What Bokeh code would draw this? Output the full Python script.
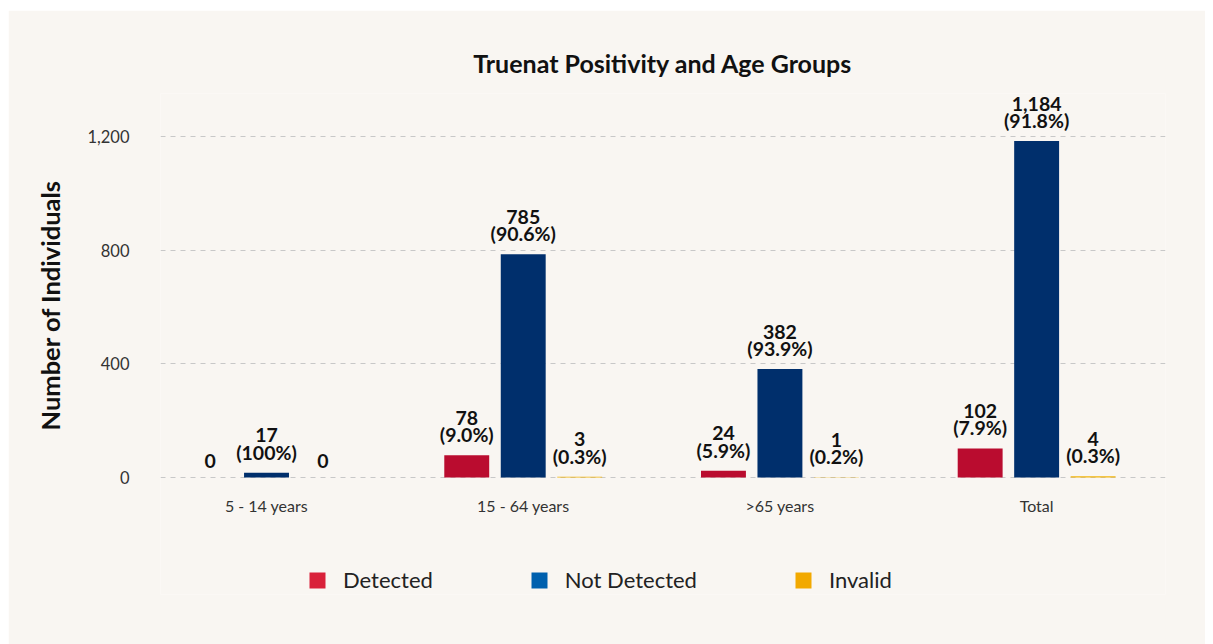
from bokeh.plotting import figure
from bokeh.models import ColumnDataSource, Range1d, FixedTicker, Legend, LegendItem, NumeralTickFormatter, Title
from bokeh.core.properties import value
from bokeh.embed import file_html
from bokeh.resources import INLINE

categories = ["5 - 14 years", "15 - 64 years", ">65 years", "Total"]
detected = [0, 78, 24, 102]
not_detected = [17, 785, 382, 1184]
invalid = [0, 3, 1, 4]
detected_pct = ["", "(9.0%)", "(5.9%)", "(7.9%)"]
not_detected_pct = ["(100%)", "(90.6%)", "(93.9%)", "(91.8%)"]
invalid_pct = ["", "(0.3%)", "(0.2%)", "(0.3%)"]
series_names = ["Detected", "Not Detected", "Invalid"]
y_title = "Number of Individuals"
bar_colors = ["#BA0C2F", "#002F6C", "#F2B40A"]
legend_colors = ["#D9213A", "#0060AE", "#F2A900"]

BG = "#F9F6F2"
FONT = "Lato"

p = figure(width=1197, height=634, output_backend="svg", toolbar_location=None,
           x_range=Range1d(-0.413, 3.502), y_range=Range1d(-411.7, 1351),
           min_border_left=152, min_border_right=40, min_border_top=83, min_border_bottom=50,
           title="Truenat Positivity and Age Groups")
p.margin = (10, 0, 0, 8)
p.background_fill_color = BG
p.border_fill_color = BG
p.outline_line_color = None

p.title.text_font = FONT
p.title.text_font_size = "25px"
p.title.text_font_style = "bold"
p.title.text_color = "#111111"
p.title.align = "center"
p.title.standoff = 32

def fmt(v):
    return f"{v:,}"

offsets = [-0.22, 0.0, 0.22]
width = 0.175
all_series = [detected, not_detected, invalid]
all_pct = [detected_pct, not_detected_pct, invalid_pct]
for k in range(3):
    xs = [i + offsets[k] for i in range(len(categories))]
    vals = all_series[k]
    labels = []
    for v, pc in zip(vals, all_pct[k]):
        labels.append(fmt(v) if pc == "" else fmt(v) + "\n" + pc)
    src = ColumnDataSource(dict(x=xs, top=vals, label=labels))
    p.vbar(x="x", top="top", width=width, bottom=0, source=src,
           fill_color=bar_colors[k], line_color=None)
    p.text(x="x", y="top", text="label", source=src, text_align="center",
           text_baseline="bottom", y_offset=-9, text_font=value(FONT),
           text_font_size="19.5px", text_font_style="bold", text_color="#111111",
           text_line_height=0.75)

# legend (dummy renderers carry the legend swatch colours)
items = []
for k in range(3):
    src = ColumnDataSource(dict(x=[10.0], top=[0.0]))
    r = p.vbar(x="x", top="top", width=0.1, source=src,
               fill_color=legend_colors[k], line_color=None)
    items.append(LegendItem(label=series_names[k], renderers=[r]))
legend = Legend(items=items, orientation="horizontal", location=(147, 1),
                glyph_width=20, glyph_height=20, label_standoff=16, spacing=96,
                label_text_font=FONT, label_text_font_size="22px", label_text_color="#222222",
                label_height=20, background_fill_alpha=0, border_line_color=None,
                padding=0, margin=0)
p.add_layout(legend, "center")

p.yaxis.ticker = FixedTicker(ticks=[0, 400, 800, 1200])
p.yaxis.formatter = NumeralTickFormatter(format="0,0")
p.yaxis.axis_line_color = None
p.yaxis.major_tick_line_color = None
p.yaxis.minor_tick_line_color = None
p.yaxis.major_label_standoff = 25
p.yaxis.major_label_text_font = FONT
p.yaxis.major_label_text_font_size = "16.5px"
p.yaxis.major_label_text_color = "#333333"

ytitle = Title(text=y_title, align="left", offset=164, standoff=40,
               text_font=FONT, text_font_size="25.5px", text_font_style="bold",
               text_color="#111111")
p.add_layout(ytitle, "left")

p.xaxis.fixed_location = 0
p.xaxis.ticker = FixedTicker(ticks=[0, 1, 2, 3])
p.xaxis.major_label_overrides = {i: c for i, c in enumerate(categories)}
p.xaxis.axis_line_color = None
p.xaxis.major_tick_line_color = None
p.xaxis.minor_tick_line_color = None
p.xaxis.major_label_standoff = 13
p.xaxis.major_label_text_font = FONT
p.xaxis.major_label_text_font_size = "16px"
p.xaxis.major_label_text_color = "#333333"

p.xgrid.grid_line_color = None
p.ygrid.grid_line_color = "#C8C8C8"
p.ygrid.grid_line_dash = "5 5"
p.ygrid.grid_line_width = 1

open("out.html", "w").write(file_html(p, INLINE))
